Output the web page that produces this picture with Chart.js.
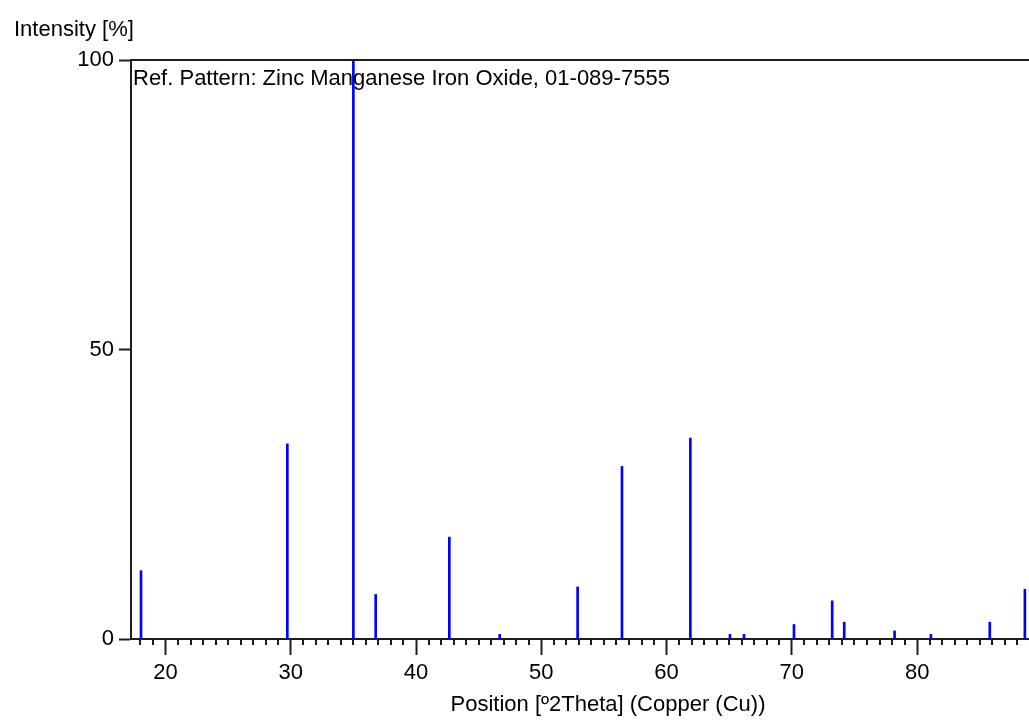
<!DOCTYPE html>
<html lang="en">
<head>
  <meta charset="UTF-8">
  <title>Ref. Pattern: Zinc Manganese Iron Oxide</title>
  <script src="https://cdn.jsdelivr.net/npm/chart.js"></script>
  <style>
    html, body { margin: 0; padding: 0; background: #fff; overflow: hidden; }
    #view { width: 1029px; height: 727px; overflow: hidden; }
    #box { width: 1090px; height: 727px; position: relative; }
  </style>
</head>
<body>
<div id="view">
  <div id="box">
    <canvas id="grafico"></canvas>
  </div>
</div>

<script>
  // Reference peaks (position in °2Theta, relative intensity in %)
  const peakPos = [18.05, 29.73, 35.0, 36.78, 42.66, 46.68, 52.9, 56.44, 61.9,
                   65.06, 66.18, 70.17, 73.22, 74.18, 78.2, 81.1, 85.8, 88.6];
  const peakInt = [11.8, 33.7, 100, 7.7, 17.6, 0.8, 9.0, 29.8, 34.7,
                   0.8, 0.8, 2.5, 6.6, 2.9, 1.4, 0.8, 2.9, 8.6];
  const xTicks = [20, 30, 40, 50, 60, 70, 80, 90];
  const yTicks = [0, 50, 100];

  const patternLabel = "Ref. Pattern: Zinc Manganese Iron Oxide, 01-089-7555";
  const fuente = "'Liberation Sans', Arial, sans-serif";
  const ink = "#1e1e1e";

  // top border, minor ticks and the pattern name inside the plot
  const marco = {
    id: "marco",
    afterDraw(chart) {
      const { ctx, chartArea: a, scales: { x } } = chart;
      ctx.save();
      ctx.strokeStyle = ink;
      ctx.lineWidth = 2;
      ctx.beginPath();
      ctx.moveTo(a.left - 1, a.top);
      ctx.lineTo(a.right, a.top);
      for (let v = Math.ceil(x.min); v <= x.max; v++) {
        if (v % 10 === 0) continue;
        const px = Math.round(x.getPixelForValue(v));
        ctx.moveTo(px, a.bottom);
        ctx.lineTo(px, a.bottom + 6);
      }
      ctx.stroke();
      ctx.fillStyle = "#000";
      ctx.font = "22px " + fuente;
      ctx.textBaseline = "top";
      ctx.fillText(patternLabel, a.left + 2, a.top + 8);
      ctx.restore();
    }
  };

  new Chart(document.getElementById("grafico"), {
    type: "bar",
    data: {
      datasets: [{
        data: peakPos.map((p, i) => ({ x: p, y: peakInt[i] })),
        backgroundColor: "#0000ff",
        borderWidth: 0,
        barThickness: 2
      }]
    },
    options: {
      responsive: true,
      maintainAspectRatio: false,
      animation: false,
      layout: { padding: { left: 14, right: 5, top: 0, bottom: 0 } },
      plugins: {
        legend: { display: false },
        tooltip: { enabled: false },
        title: {
          display: true,
          text: "Intensity [%]",
          align: "start",
          color: "#000",
          font: { family: fuente, size: 22, weight: "normal" },
          padding: { top: 17, bottom: 16.6 }
        }
      },
      scales: {
        x: {
          type: "linear",
          min: 17.25,
          max: 93.4,
          offset: false,
          afterBuildTicks: s => { s.ticks = xTicks.map(v => ({ value: v })); },
          afterFit: s => { s.height = 88; },
          grid: { drawOnChartArea: false, offset: false, tickLength: 16, tickWidth: 2, tickColor: ink },
          border: { color: ink, width: 2 },
          ticks: { color: "#000", padding: 5, maxRotation: 0, font: { family: fuente, size: 22 } },
          title: {
            display: true,
            text: "Position [º2Theta] (Copper (Cu))",
            color: "#000",
            padding: { top: 0, bottom: 9 },
            font: { family: fuente, size: 22 }
          }
        },
        y: {
          min: 0,
          max: 100,
          afterBuildTicks: s => { s.ticks = yTicks.map(v => ({ value: v })); },
          afterFit: s => { s.width = 117; },
          grid: { drawOnChartArea: false, tickLength: 12, tickWidth: 2, tickColor: ink },
          border: { color: ink, width: 2 },
          ticks: { color: "#000", padding: 5, font: { family: fuente, size: 22 } }
        }
      }
    },
    plugins: [marco]
  });
</script>
</body>
</html>
